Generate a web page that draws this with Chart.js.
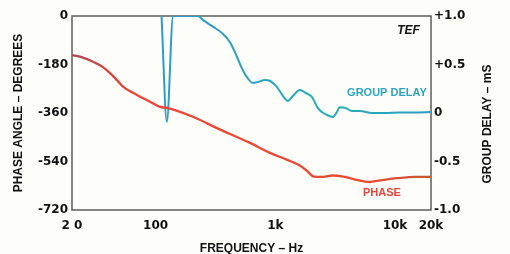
<!DOCTYPE html>
<html>
<head>
<meta charset="utf-8">
<script src="https://cdn.jsdelivr.net/npm/chart.js@4/dist/chart.umd.min.js"></script>
<style>
  html, body { margin: 0; padding: 0; background: #fdfdf9; }
  canvas { display: block; }
</style>
</head>
<body>
<canvas id="tefChart" width="510" height="254"></canvas>
<script>
// frequency axis ticks
const freqTicks = [20, 100, 1000, 10000, 20000];
const freqTickLabels = ['2 0', '100', '1k', '10k', '20k'];

// left axis (phase, degrees)
const phaseTicks = [0, -180, -360, -540, -720];

// right axis (group delay, mS)
const delayTicks = [1, 0.5, 0, -0.5, -1];
const delayTickLabels = ['+1.0', '+0.5', '0', '-0.5', '-1.0'];

// phase curve
const phaseFreq = [20, 23.3, 30, 36, 41.6, 48, 53.4, 69.8, 89.7, 108.6, 124, 145, 205, 326, 614, 904, 1258, 1600, 1830, 2100, 2500, 3000, 3700, 4500, 6180, 7300, 10400, 15000, 20000];
const phaseDeg  = [-145, -151, -170, -189, -212, -240, -262, -293, -318, -337, -341, -349, -374, -416, -471, -508, -534, -555, -574, -596, -597, -592, -596, -605, -616, -611, -602, -597, -597];

// group delay curve (values above +1.0 are off the top of the plot)
const delayFreq = [112, 124, 140, 226, 248, 301, 358, 418, 478, 526, 579, 650, 716, 820, 904, 1030, 1160, 1275, 1400, 1606, 1800, 2020, 2270, 2450, 2700, 3030, 3270, 3460, 3890, 4370, 5100, 6410, 8240, 11000, 14700, 20000];
const delayMs   = [1.0, -0.09, 1.0, 1.0, 0.96, 0.89, 0.825, 0.73, 0.58, 0.46, 0.37, 0.31, 0.32, 0.34, 0.33, 0.27, 0.175, 0.124, 0.175, 0.237, 0.206, 0.165, 0.05, 0.01, -0.02, -0.04, 0.01, 0.06, 0.05, 0.02, 0.02, 0.0, 0, 0.005, 0.005, 0.01];

const RED = '#e5443c';
const CYAN = '#2ba4c2';
const titleFont = { family: '"Liberation Sans", Arial, sans-serif', size: 12, weight: 'bold' };
const tickFont = { family: '"DejaVu Sans", sans-serif', size: 12, weight: 'bold' };

// the printed curves drift in hue from left to right
function hueRamp(stops, fallback) {
  return c => {
    const a = c.chart.chartArea;
    if (!a) return fallback;
    const g = c.chart.ctx.createLinearGradient(a.left, 0, a.right, 0);
    stops.forEach(([p, col]) => g.addColorStop(p, col));
    return g;
  };
}

// frame + in-plot labels + right title (drawn rotated the same way as the left one)
const decor = {
  id: 'decor',
  beforeDatasetsDraw(chart) {
    const { ctx, chartArea: a } = chart;
    ctx.save();
    ctx.strokeStyle = '#5c5c58';
    ctx.lineWidth = 1.5;
    ctx.strokeRect(a.left, a.top, a.right - a.left, a.bottom - a.top);
    ctx.restore();
  },
  afterDraw(chart) {
    const { ctx, scales } = chart;
    const x = scales.x, y = scales.y, y2 = scales.y2;
    ctx.save();
    ctx.textAlign = 'center';
    ctx.textBaseline = 'middle';

    ctx.fillStyle = '#111';
    ctx.font = 'italic bold 12px "Liberation Sans", Arial, sans-serif';
    ctx.fillText('TEF', x.getPixelForValue(13000), y.getPixelForValue(-56));

    ctx.fillStyle = CYAN;
    ctx.font = 'bold 11px "Liberation Sans", Arial, sans-serif';
    ctx.fillText('GROUP DELAY', x.getPixelForValue(8570), y2.getPixelForValue(0.206));

    ctx.fillStyle = RED;
    ctx.fillText('PHASE', x.getPixelForValue(7780), y.getPixelForValue(-657));

    ctx.fillStyle = '#111';
    ctx.font = 'bold 12px "Liberation Sans", Arial, sans-serif';
    ctx.translate(488, (chart.chartArea.top + chart.chartArea.bottom) / 2 + 11);
    ctx.rotate(-Math.PI / 2);
    ctx.fillText('GROUP DELAY \u2013 mS', 0, 0);
    ctx.restore();
  }
};

const ctx = document.getElementById('tefChart').getContext('2d');
new Chart(ctx, {
  type: 'line',
  data: {
    datasets: [
      {
        label: 'PHASE',
        data: phaseFreq.map((f, i) => ({ x: f, y: phaseDeg[i] })),
        yAxisID: 'y',
        borderColor: hueRamp([[0, '#a8445a'], [0.1, '#d8443f'], [0.2, '#ec4538'], [0.8, '#ea4a36'], [1, '#c85a34']], RED),
        borderWidth: 2.3,
        pointRadius: 0,
        cubicInterpolationMode: 'monotone'
      },
      {
        label: 'GROUP DELAY',
        data: delayFreq.map((f, i) => ({ x: f, y: delayMs[i] })),
        yAxisID: 'y2',
        borderColor: hueRamp([[0.2, '#2a9bd0'], [0.45, '#2b9ec4'], [0.7, '#22aeb4'], [1, '#2f9cc4']], CYAN),
        borderWidth: 2,
        pointRadius: 0,
        cubicInterpolationMode: 'monotone'
      }
    ]
  },
  options: {
    responsive: false,
    animation: false,
    layout: { padding: { top: 16, left: 0, right: 0, bottom: 0 } },
    plugins: { legend: { display: false }, tooltip: { enabled: false } },
    scales: {
      x: {
        type: 'logarithmic',
        min: 20,
        max: 20000,
        afterBuildTicks: s => { s.ticks = freqTicks.map(v => ({ value: v })); },
        afterFit: s => { s.height = 44; },
        grid: { display: false, drawTicks: false },
        border: { display: false },
        ticks: {
          color: '#111',
          font: tickFont,
          padding: 9,
          maxRotation: 0,
          autoSkip: false,
          callback: v => freqTickLabels[freqTicks.indexOf(v)]
        },
        title: { display: true, text: 'FREQUENCY \u2013 Hz', color: '#111', font: titleFont, padding: { top: 0, bottom: -2 } }
      },
      y: {
        position: 'left',
        min: -720,
        max: 0,
        afterBuildTicks: s => { s.ticks = phaseTicks.map(v => ({ value: v })); },
        afterFit: s => { s.width = 72; },
        grid: { display: false, drawTicks: false },
        border: { display: false },
        ticks: { color: '#111', font: tickFont, padding: 4 },
        title: { display: true, text: 'PHASE ANGLE \u2013 DEGREES', color: '#111', font: titleFont, padding: { top: 11, bottom: 0 } }
      },
      y2: {
        position: 'right',
        min: -1,
        max: 1,
        afterBuildTicks: s => { s.ticks = delayTicks.map(v => ({ value: v })); },
        afterFit: s => { s.width = 79; },
        grid: { display: false, drawTicks: false },
        border: { display: false },
        ticks: {
          color: '#111',
          font: tickFont,
          padding: 3,
          callback: v => delayTickLabels[delayTicks.indexOf(v)]
        }
      }
    }
  },
  plugins: [decor]
});
</script>
</body>
</html>
